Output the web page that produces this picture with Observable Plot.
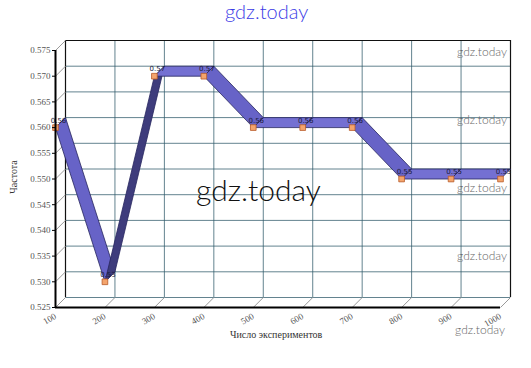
<!DOCTYPE html>
<html><head><meta charset="utf-8">
<script src="https://cdn.jsdelivr.net/npm/d3@7"></script>
<script src="https://cdn.jsdelivr.net/npm/@observablehq/plot@0.6"></script>
<style>
body{margin:0;background:#fff;}
#wrap{position:relative;width:531px;height:368px;overflow:hidden;}
#wrap svg{position:absolute;left:0;top:0;}
.wm{position:absolute;font-family:Lato,"Open Sans",sans-serif;font-weight:300;white-space:nowrap;line-height:1;}
.ax{position:absolute;font-family:"Liberation Serif","DejaVu Serif",serif;color:#333;white-space:nowrap;line-height:1;}
</style></head>
<body><div id="wrap"></div>
<script>
const xValues = [100, 200, 300, 400, 500, 600, 700, 800, 900, 1000];
const yValues = [0.56, 0.53, 0.57, 0.57, 0.56, 0.56, 0.56, 0.55, 0.55, 0.55];
const pointLabels = ["0.56","0.53","0.57","0.57","0.56","0.56","0.56","0.55","0.55","0.55"];
const yTicks = [0.525, 0.53, 0.535, 0.54, 0.545, 0.55, 0.555, 0.56, 0.565, 0.57, 0.575];
const yTickLabels = ["0.525","0.530","0.535","0.540","0.545","0.550","0.555","0.560","0.565","0.570","0.575"];
const xTickLabels = ["100","200","300","400","500","600","700","800","900","1000"];
const xTitle = "Число экспериментов";
const yTitle = "Частота";
const watermark = "gdz.today";

const W = 531, H = 368, mL = 55, mR = 31, mT = 50, mB = 61;
const xDom = [100, 1000], yDom = [0.525, 0.575];
const depth = 10; // px
const ox = depth * (xDom[1]-xDom[0]) / (W-mL-mR);
const oy = depth * (yDom[1]-yDom[0]) / (H-mT-mB);

// ribbon polygons (built from data)
const segs = [];
for (let i = 0; i < xValues.length-1; i++) {
  const x1 = xValues[i], y1 = yValues[i], x2 = xValues[i+1], y2 = yValues[i+1];
  const kind = y2 > y1 ? "up" : (y2 < y1 ? "down" : "flat");
  segs.push({kind, pts: [[x1,y1],[x2,y2],[x2+ox,y2+oy],[x1+ox,y1+oy],[x1,y1]]});
}
const faceColor = {up: "#3e3c7c", down: "#6763c7", flat: "#7470d2"};

const marks = [];
// back wall grid
marks.push(Plot.ruleY(yTicks, {y: d => d+oy, x1: xDom[0]+ox, x2: xDom[1]+ox, stroke: "#2f5a6a", strokeOpacity: 0.75}));
marks.push(Plot.ruleX(xValues, {x: d => d+ox, y1: yDom[0]+oy, y2: yDom[1]+oy, stroke: "#2f5a6a", strokeOpacity: 0.75}));
marks.push(Plot.ruleY([yDom[1]+oy], {x1: xDom[0]+ox, x2: xDom[1]+ox, stroke: "#111", strokeWidth: 1.2}));
marks.push(Plot.ruleX([xDom[0]+ox, xDom[1]+ox], {y1: yDom[0]+oy, y2: yDom[1]+oy, stroke: "#111", strokeWidth: 1.2}));
// depth connectors
marks.push(Plot.link(yTicks, {x1: xDom[0], y1: d => d, x2: xDom[0]+ox, y2: d => d+oy, stroke: "#999"}));
marks.push(Plot.link(xValues, {x1: d => d, y1: yDom[0], x2: d => d+ox, y2: yDom[0]+oy, stroke: "#999"}));
// ribbon
segs.forEach(s => {
  marks.push(Plot.line(s.pts, {x: d => d[0], y: d => d[1], fill: faceColor[s.kind], stroke: "#27265e", strokeWidth: 0.8, strokeLinejoin: "round"}));
});
// markers
marks.push(Plot.dot(xValues.map((x,i)=>({x, y: yValues[i]})), {x: "x", y: "y", symbol: "square", r: 3.2, fill: "#f4a46c", stroke: "#b85a28", strokeWidth: 0.8}));
// point labels
marks.push(Plot.text(xValues.map((x,i)=>({x, y: yValues[i], t: pointLabels[i]})), {x: "x", y: "y", text: "t", dx: 3, dy: -7, fontSize: 7, fill: "#1a1a3a", fontFamily: "DejaVu Sans"}));
// axes lines
marks.push(Plot.ruleX([xDom[0]], {y1: yDom[0], y2: yDom[1], stroke: "#000", strokeWidth: 2}));
marks.push(Plot.ruleY([yDom[0]], {x1: xDom[0], x2: xDom[1], stroke: "#000", strokeWidth: 2}));
marks.push(Plot.ruleY(yTicks, {x1: xDom[0] - 3*ox/depth, x2: xDom[0], stroke: "#000"}));
// tick labels
marks.push(Plot.text(yTicks, {x: xDom[0], y: d => d, text: (d,i) => yTickLabels[i], dx: -5, textAnchor: "end", fontSize: 9, fill: "#555", fontFamily: "Liberation Serif"}));
marks.push(Plot.text(xValues, {x: d => d, y: yDom[0], text: (d,i) => xTickLabels[i], rotate: -30, textAnchor: "end", dx: 0, dy: 8, fontSize: 9, fill: "#555", fontFamily: "Liberation Serif"}));

const chart = Plot.plot({
  width: W, height: H, marginLeft: mL, marginRight: mR, marginTop: mT, marginBottom: mB,
  x: {domain: xDom, axis: null},
  y: {domain: yDom, axis: null},
  style: {background: "transparent", overflow: "visible"},
  marks
});
const wrap = document.getElementById("wrap");
wrap.appendChild(chart);

function addText(cls, txt, css) {
  const d = document.createElement("div");
  d.className = cls; d.textContent = txt;
  Object.assign(d.style, css);
  wrap.appendChild(d);
}
addText("ax", xTitle, {left: "230px", top: "330px", fontSize: "10px"});
addText("ax", yTitle, {left: "-3px", top: "172px", fontSize: "10px", transform: "rotate(-90deg)", transformOrigin: "center"});
addText("wm", watermark, {left: "225px", top: "1px", fontSize: "20px", color: "#3b3be6"});
addText("wm", watermark, {left: "196px", top: "174px", fontSize: "30px", color: "#111"});
[46, 114, 182, 250, 324].forEach((t,i) => {
  addText("wm", watermark, {right: (i===4 ? 26 : 24) + "px", top: t + "px", fontSize: "12px", color: "#666"});
});
</script></body></html>
